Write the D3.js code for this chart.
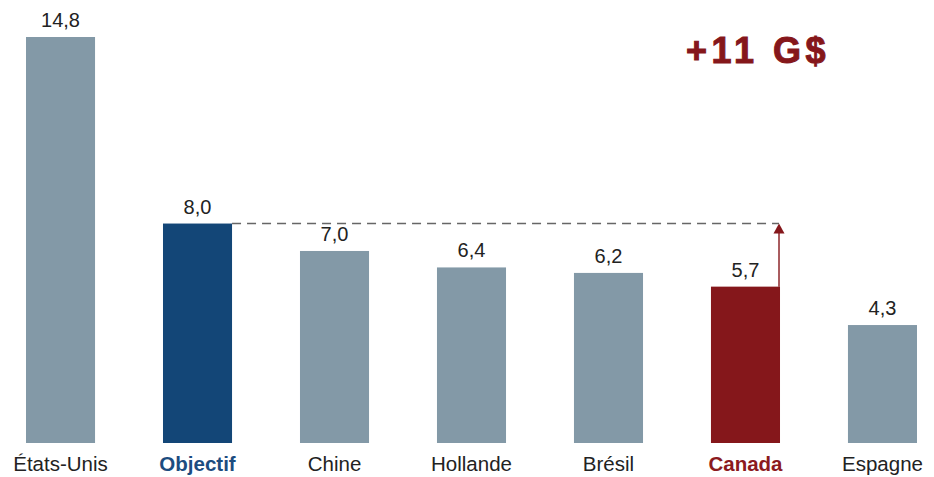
<!DOCTYPE html>
<html>
<head>
<meta charset="utf-8">
<script src="https://cdn.jsdelivr.net/npm/d3@7"></script>
<style>
  body { margin: 0; background: #fff; }
  text { font-family: "Liberation Sans", Arial, sans-serif; }
</style>
</head>
<body>
<script>
// data
const categories = ['États-Unis', 'Objectif', 'Chine', 'Hollande', 'Brésil', 'Canada', 'Espagne']
const values = [14.8, 8.0, 7.0, 6.4, 6.2, 5.7, 4.3]
const valueLabels = ['14,8', '8,0', '7,0', '6,4', '6,2', '5,7', '4,3']
const gapLabel = '+11 G$'

var w = 934
var h = 477

const grey = '#8399a7'
const navy = '#134677'
const red = '#85171b'

const barColor = function (d) {
  if (d === 'Objectif') return navy
  if (d === 'Canada') return red
  return grey
}
const labelColor = function (d) {
  if (d === 'Objectif') return '#1c4c7f'
  if (d === 'Canada') return '#8b1a1e'
  return '#222'
}

var xScale = d3.scaleBand()
  .domain(categories)
  .range([26, 917])
  .paddingInner(0.496)
  .paddingOuter(0)

var yScale = d3.scaleLinear()
  .domain([0, 14.8])
  .range([443, 37])

var svg = d3.select('body')
  .append('svg')
  .attr('width', w)
  .attr('height', h)

const rows = categories.map((c, i) => ({ cat: c, val: values[i], lab: valueLabels[i] }))

// bars
svg.selectAll('rect.bar')
  .data(rows)
  .enter()
  .append('rect')
  .attr('class', 'bar')
  .attr('x', d => xScale(d.cat))
  .attr('y', d => yScale(d.val))
  .attr('width', xScale.bandwidth())
  .attr('height', d => yScale(0) - yScale(d.val))
  .attr('fill', d => barColor(d.cat))

// value labels
svg.selectAll('text.val')
  .data(rows)
  .enter()
  .append('text')
  .attr('class', 'val')
  .attr('x', d => xScale(d.cat) + xScale.bandwidth() / 2)
  .attr('y', d => yScale(d.val) - 10)
  .attr('text-anchor', 'middle')
  .attr('font-size', '20px')
  .attr('fill', '#222')
  .text(d => d.lab)

// category axis (no line, no ticks)
const xAxis = d3.axisBottom(xScale).tickSize(0).tickPadding(10)
const gx = svg.append('g')
  .attr('transform', `translate(0, ${yScale(0)})`)
  .call(xAxis)
gx.select('.domain').remove()
gx.selectAll('text')
  .attr('font-family', '"Liberation Sans", Arial, sans-serif')
  .attr('font-size', '20.5px')
  .attr('dy', '0.9em')
  .attr('fill', d => labelColor(d))
  .attr('font-weight', d => (d === 'Objectif' || d === 'Canada') ? 'bold' : 'normal')

// dashed target line from Objectif to Canada
const target = values[categories.indexOf('Objectif')]
const canVal = values[categories.indexOf('Canada')]
const arrowX = xScale('Canada') + xScale.bandwidth() - 1
svg.append('line')
  .attr('x1', xScale('Objectif') + xScale.bandwidth())
  .attr('x2', arrowX)
  .attr('y1', yScale(target))
  .attr('y2', yScale(target))
  .attr('stroke', '#666')
  .attr('stroke-width', 1.5)
  .attr('stroke-dasharray', '9,6')

// arrow up
svg.append('line')
  .attr('x1', arrowX)
  .attr('x2', arrowX)
  .attr('y1', yScale(canVal))
  .attr('y2', yScale(target) + 8)
  .attr('stroke', red)
  .attr('stroke-width', 1.4)
svg.append('path')
  .attr('d', `M${arrowX},${yScale(target)} L${arrowX - 5.5},${yScale(target) + 10} L${arrowX + 5.5},${yScale(target) + 10} Z`)
  .attr('fill', red)

// gap annotation
svg.append('text')
  .attr('x', 686)
  .attr('y', 63)
  .attr('font-size', '36px')
  .attr('font-weight', 'bold')
  .attr('letter-spacing', '4.5px')
  .attr('fill', red)
  .attr('stroke', red)
  .attr('stroke-width', 1)
  .text(gapLabel)
</script>
</body>
</html>
